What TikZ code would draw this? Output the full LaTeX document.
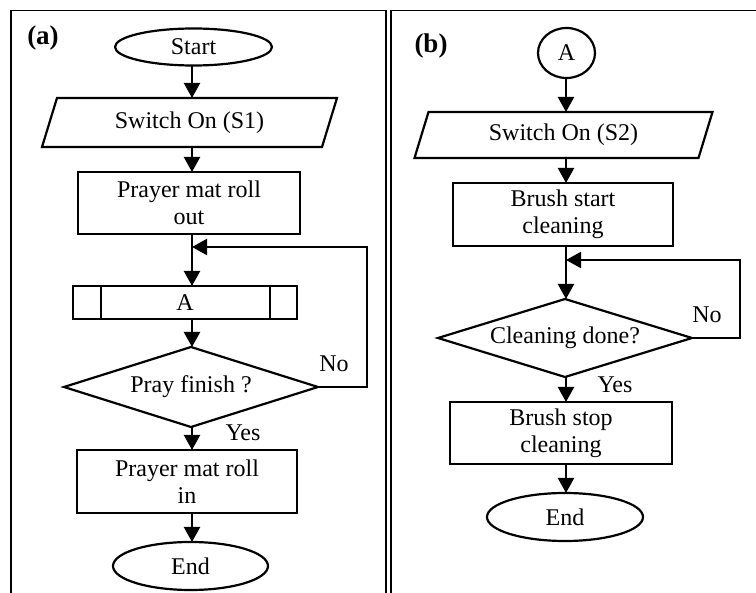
\documentclass[tikz,border=0pt]{standalone}
\usepackage{fontspec}
\setmainfont{Liberation Serif}
\usetikzlibrary{shapes.geometric,arrows.meta,calc}
\begin{document}
\begin{tikzpicture}[x=1pt,y=-1pt,
  every node/.style={font=\fontsize{24}{27}\selectfont, inner sep=0pt, outer sep=0pt},
  ln/.style={line width=2.2pt},
  frame/.style={line width=1.8pt},
  arr/.style={line width=2.2pt,-{Triangle[width=16pt,length=15pt]}},
  term/.style={ellipse, draw, line width=2.2pt},
  proc/.style={rectangle, draw, line width=2.2pt, align=center},
  ghost/.style={rectangle, align=center},
  lbl/.style={font=\fontsize{27}{30}\selectfont\bfseries}
]
\useasboundingbox (0,0) rectangle (756,593);
% panel frames
\draw[frame] (11,593) -- (11,10.5) -- (386,10.5) -- (386,593);
\draw[frame] (391,593) -- (391,10.5) -- (756,10.5);

% ---------------- panel (a)
\node[lbl] (la) at (43,38) {(a)};
\coordinate (ca) at (192,0);
\node[term, minimum width=157pt, minimum height=37pt] (start) at (193.5,47) {Start};
\node[ghost, minimum width=280pt, minimum height=49pt] (sw1) at (189.5,122.5) {Switch On (S1)};
\draw[ln] ($(sw1.north west)+(7.5,0)$) -- ($(sw1.north east)+(7.5,0)$) -- ($(sw1.south east)+(-7.5,0)$) -- ($(sw1.south west)+(-7.5,0)$) -- cycle;
\node[proc, minimum width=222pt, minimum height=62pt] (rout) at (189,203) {Prayer mat roll\\out};
\node[proc, minimum width=224pt, minimum height=33pt] (suba) at (185,302.5) {A};
\draw[ln] ($(suba.north west)+(28,0)$) -- ($(suba.south west)+(28,0)$);
\draw[ln] ($(suba.north east)+(-27,0)$) -- ($(suba.south east)+(-27,0)$);
\node[ghost, minimum width=254pt, minimum height=80pt] (pray) at (191,387) {Pray finish ?};
\draw[ln] (pray.north) -- (pray.east) -- (pray.south) -- (pray.west) -- cycle;
\node[proc, minimum width=220pt, minimum height=63pt] (rin) at (187,481.5) {Prayer mat roll\\in};
\node[term, minimum width=155pt, minimum height=48pt] (enda) at (190.5,566) {End};
\node (noa) at (334,364) {No};
\node (yesa) at (243,433) {Yes};
\coordinate (loopa) at (367,247);

\draw[arr] (ca |- start.south) -- (ca |- sw1.north);
\draw[arr] (ca |- sw1.south) -- (ca |- rout.north);
\draw[arr] (ca |- rout.south) -- (ca |- suba.north);
\draw[arr] (ca |- suba.south) -- (ca |- pray.north);
\draw[arr] (ca |- pray.south) -- (ca |- rin.north);
\draw[arr] (ca |- rin.south) -- (ca |- enda.north);
\draw[arr] (pray.east) -- (loopa |- pray.east) -- (loopa) -- (ca |- loopa);

% ---------------- panel (b)
\node[lbl] (lb) at (431,46) {(b)};
\coordinate (cb) at (566,0);
\node[term, minimum width=57pt, minimum height=50pt] (cona) at (566.5,53) {A};
\node[ghost, minimum width=284pt, minimum height=46pt] (sw2) at (563.5,135) {Switch On (S2)};
\draw[ln] ($(sw2.north west)+(7,0)$) -- ($(sw2.north east)+(7,0)$) -- ($(sw2.south east)+(-7,0)$) -- ($(sw2.south west)+(-7,0)$) -- cycle;
\node[proc, minimum width=220pt, minimum height=63pt] (bst) at (563,214.5) {Brush start\\cleaning};
\node[ghost, minimum width=254pt, minimum height=78pt] (done) at (565,338) {Cleaning done?};
\draw[ln] (done.north) -- (done.east) -- (done.south) -- (done.west) -- cycle;
\node[proc, minimum width=222pt, minimum height=62pt] (bsp) at (561,433) {Brush stop\\cleaning};
\node[term, minimum width=156pt, minimum height=48pt] (endb) at (565,517) {End};
\node (nob) at (707,315) {No};
\node (yesb) at (615,385) {Yes};
\coordinate (loopb) at (740,260);

\draw[arr] (cb |- cona.south) -- (cb |- sw2.north);
\draw[arr] (cb |- sw2.south) -- (cb |- bst.north);
\draw[arr] (cb |- bst.south) -- (cb |- done.north);
\draw[arr] (cb |- done.south) -- (cb |- bsp.north);
\draw[arr] (cb |- bsp.south) -- (cb |- endb.north);
\draw[arr] (done.east) -- (loopb |- done.east) -- (loopb) -- (cb |- loopb);
\end{tikzpicture}
\end{document}
